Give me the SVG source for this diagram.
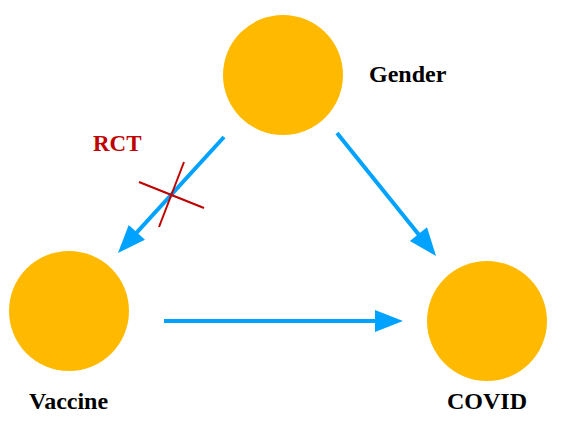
<svg xmlns="http://www.w3.org/2000/svg" width="566" height="429" viewBox="0 0 566 429">
<style>
.node{fill:#FFBA00;}
.lbl{font-family:"Liberation Serif","Times New Roman",serif;font-weight:bold;font-size:24px;fill:#000;}
.edge{stroke:#00A2FF;stroke-width:4;fill:none;}
.cross{stroke:#C00000;stroke-width:2;}
</style>
<defs>
<marker id="ah" markerUnits="userSpaceOnUse" markerWidth="30" markerHeight="22" viewBox="0 0 28 22" refX="2" refY="11" orient="auto">
<path d="M0,0 L28,11 L0,22 z" fill="#00A2FF"/>
</marker>
</defs>
<rect width="566" height="429" fill="#fff"/>
<g id="connectors">
<line class="edge" x1="224" y1="137" x2="135.5" y2="233.8" marker-end="url(#ah)"/>
<line class="edge" x1="337" y1="133" x2="419.7" y2="235.7" marker-end="url(#ah)"/>
<line class="edge" x1="164" y1="321" x2="377" y2="321" marker-end="url(#ah)"/>
</g>
<g id="rct">
<line class="cross" x1="139" y1="182" x2="204" y2="208"/>
<line class="cross" x1="184" y1="162" x2="159" y2="227"/>
<text x="93" y="151" class="lbl" style="fill:#C00000;font-size:23px">RCT</text>
</g>
<g id="gender">
<circle class="node" cx="283" cy="75" r="60"/>
<text x="369" y="82" class="lbl">Gender</text>
</g>
<g id="vaccine">
<circle class="node" cx="69" cy="311" r="60"/>
<text x="29" y="409" class="lbl">Vaccine</text>
</g>
<g id="covid">
<circle class="node" cx="487" cy="321" r="60"/>
<text x="447" y="409" class="lbl">COVID</text>
</g>
</svg>
